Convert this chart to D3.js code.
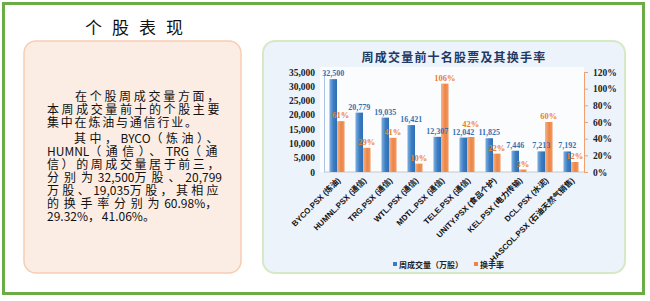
<!DOCTYPE html>
<html>
<head>
<meta charset="utf-8">
<script src="https://cdn.jsdelivr.net/npm/d3@7"></script>
<style>
  body { margin: 0; background: #fff; }
  svg { display: block; }
</style>
</head>
<body>
<div id="chart"></div>
<script>
// chart data
const categories = ["BYCO.PSX (炼油)", "HUMNL.PSX (通信)", "TRG.PSX (通信)", "WTL.PSX (通信)", "MDTL.PSX (通信)",
  "TELE.PSX (通信)", "UNITY.PSX (食品个护)", "KEL.PSX (电力传输)", "DCL.PSX (水泥)", "HASCOL.PSX (石油天然气销售)"];
const volumes = [32500, 20779, 19035, 16421, 12307, 12042, 11825, 7446, 7213, 7192];
const turnover = [61, 29, 41, 10, 106, 42, 22, 3, 60, 12];
const leftTicks = [0, 5000, 10000, 15000, 20000, 25000, 30000, 35000];
const rightTicks = [0, 20, 40, 60, 80, 100, 120];
const seriesNames = ["周成交量（万股）", "换手率"];

const textLines = [
  "在个股周成交量方面，",
  "本周成交量前十的个股主要",
  "集中在炼油与通信行业。",
  "其中，BYCO（炼油）、",
  "HUMNL（通信）、TRG（通",
  "信）的周成交量居于前三，",
  "分别为32,500万股、20,799",
  "万股、19,035万股，其相应",
  "的换手率分别为60.98%，",
  "29.32%，41.06%。"
];

const W = 650, H = 301;
const svg = d3.select("#chart").append("svg").attr("width", W).attr("height", H);
const defs = svg.append("defs");

// outer green frame
svg.append("rect")
  .attr("x", 3.5).attr("y", 3.5).attr("width", 640).attr("height", 290)
  .attr("fill", "#fff").attr("stroke", "#6aad47").attr("stroke-width", 3);

// ---- left text panel ----
svg.append("text")
  .attr("x", 139).attr("y", 34)
  .attr("text-anchor", "middle")
  .style("font-family", "'Noto Sans CJK SC'")
  .style("font-size", "17px")
  .style("letter-spacing", "10px")
  .style("fill", "#111")
  .text("个股表现");

svg.append("rect")
  .attr("x", 24).attr("y", 41).attr("width", 217).attr("height", 232)
  .attr("rx", 12).attr("ry", 12)
  .attr("fill", "#fcede4").attr("stroke", "#f7cdb2").attr("stroke-width", 1.5);

const lineY = [101, 114, 127, 143, 156, 169, 182, 195, 208, 221];
const lineX = [75, 47, 47, 74, 47, 47, 47, 47, 47, 47];
const justify = [true, true, false, true, true, true, true, true, true, false];
const txt = svg.append("g")
  .style("font-family", "'Noto Sans CJK SC'")
  .style("font-size", "12px")
  .style("fill", "#111");
textLines.forEach((s, i) => {
  const t = txt.append("text").attr("x", lineX[i]).attr("y", lineY[i]);
  // split into latin / cjk runs so only CJK gets the wide spacing
  const runs = s.match(/[\x00-\x7F]+|[^\x00-\x7F]+/g);
  const cjk = [];
  runs.forEach(r => {
    const ts = t.append("tspan").text(r);
    if (!/^[\x00-\x7F]+$/.test(r)) cjk.push(ts);
  });
  const nCjk = cjk.reduce((a, ts) => a + ts.text().length, 0);
  let sp = 1.8;
  if (justify[i]) {
    const len = t.node().getComputedTextLength();
    sp = Math.max(0, (222 - lineX[i] - len) / nCjk);
  }
  cjk.forEach(ts => ts.style("letter-spacing", sp + "px"));
});

// ---- right chart panel ----
svg.append("rect")
  .attr("x", 263).attr("y", 41).attr("width", 362).attr("height", 232)
  .attr("rx", 12).attr("ry", 12)
  .attr("fill", "#edf3fa").attr("stroke", "#d6e9c6").attr("stroke-width", 2);

svg.append("text")
  .attr("x", 454).attr("y", 62)
  .attr("text-anchor", "middle")
  .style("font-family", "'Noto Sans CJK SC'")
  .style("font-size", "12px")
  .style("font-weight", "bold")
  .style("letter-spacing", "1.2px")
  .style("fill", "#1f3864")
  .text("周成交量前十名股票及其换手率");

const plot = { left: 324, right: 584, top: 72, bottom: 172 };

svg.append("rect")
  .attr("x", 320).attr("y", 67)
  .attr("width", plot.right - 320).attr("height", plot.bottom - 67)
  .attr("fill", "#fbfcfe");

const x = d3.scaleBand().domain(categories)
  .range([plot.left, plot.right])
  .paddingInner(0.42).paddingOuter(0.21);
const yL = d3.scaleLinear().domain([0, 35000]).range([plot.bottom, plot.top]);
const yR = d3.scaleLinear().domain([0, 120]).range([plot.bottom, plot.top]);

// bar gradients
function grad(id, stops) {
  const g = defs.append("linearGradient").attr("id", id)
    .attr("x1", "0%").attr("x2", "100%").attr("y1", "0%").attr("y2", "0%");
  stops.forEach(s => g.append("stop").attr("offset", s[0]).attr("stop-color", s[1]));
}
grad("gBlue", [["0%", "#7fb0e0"], ["55%", "#3a7cc2"], ["100%", "#2f6fb3"]]);
grad("gOrange", [["0%", "#f6b58c"], ["55%", "#ee8444"], ["100%", "#f19a63"]]);

const bw = x.bandwidth() / 2;

// left axis
const axL = svg.append("g").attr("transform", `translate(${plot.left},0)`)
  .call(d3.axisLeft(yL).tickValues(leftTicks).tickSize(0).tickPadding(9).tickFormat(d3.format(",")));
axL.select(".domain").attr("stroke", "#a9c4e4");
axL.selectAll("text")
  .style("font-family", "'Liberation Serif'")
  .style("font-weight", "bold")
  .style("font-size", "9.5px")
  .style("fill", "#222");

// right axis
const axR = svg.append("g").attr("transform", `translate(${plot.right},0)`)
  .call(d3.axisRight(yR).tickValues(rightTicks).tickSize(4).tickPadding(5).tickFormat(d => d + "%"));
axR.select(".domain").attr("stroke", "#f0a070");
axR.selectAll("line").attr("stroke", "#f0a070");
axR.selectAll("text")
  .style("font-family", "'Liberation Serif'")
  .style("font-weight", "bold")
  .style("font-size", "9.5px")
  .style("fill", "#222");

// baseline
svg.append("line")
  .attr("x1", plot.left).attr("x2", plot.right)
  .attr("y1", plot.bottom).attr("y2", plot.bottom)
  .attr("stroke", "#c8c8c8");

// bars
svg.append("g").selectAll("rect").data(categories).join("rect")
  .attr("x", d => x(d))
  .attr("y", (d, i) => yL(volumes[i]))
  .attr("width", bw)
  .attr("height", (d, i) => plot.bottom - yL(volumes[i]))
  .attr("fill", "url(#gBlue)");

svg.append("g").selectAll("rect").data(categories).join("rect")
  .attr("x", d => x(d) + bw)
  .attr("y", (d, i) => yR(turnover[i]))
  .attr("width", bw)
  .attr("height", (d, i) => plot.bottom - yR(turnover[i]))
  .attr("fill", "url(#gOrange)");

// value labels
svg.append("g").selectAll("text").data(categories).join("text")
  .attr("x", d => x(d) + bw / 2)
  .attr("y", (d, i) => yL(volumes[i]) - 3)
  .attr("text-anchor", "middle")
  .style("font-family", "'Liberation Serif'")
  .style("font-weight", "bold")
  .style("font-size", "8px")
  .style("fill", "#2e75b6")
  .text((d, i) => d3.format(",")(volumes[i]));

// TELE label sits a bit higher to clear the volume label (as in the original)
svg.append("g").selectAll("text").data(categories).join("text")
  .attr("x", d => x(d) + bw * 1.5)
  .attr("y", (d, i) => yR(turnover[i]) - (i === 5 ? 10 : 3))
  .attr("text-anchor", "middle")
  .style("font-family", "'Liberation Serif'")
  .style("font-weight", "bold")
  .style("font-size", "8.5px")
  .style("fill", "#ed7d31")
  .text((d, i) => turnover[i] + "%");

// category labels
svg.append("g").selectAll("text").data(categories).join("text")
  .attr("transform", d => `translate(${x(d) + x.bandwidth() / 2 + 2},${plot.bottom + 7}) rotate(-45)`)
  .attr("text-anchor", "end")
  .attr("dy", "0.35em")
  .style("font-family", "'Liberation Sans', 'Noto Sans CJK SC'")
  .style("font-weight", "bold")
  .style("font-size", "8px")
  .style("fill", "#111")
  .text(d => d);

// legend
const legendColors = ["#3a7cc2", "#ee8444"];
const legendX = [393, 474];
const lg = svg.append("g");
seriesNames.forEach((n, i) => {
  lg.append("rect").attr("x", legendX[i]).attr("y", 262).attr("width", 4).attr("height", 4)
    .attr("fill", legendColors[i]);
  lg.append("text").attr("x", legendX[i] + 6).attr("y", 267.5)
    .style("font-family", "'Noto Sans CJK SC'")
    .style("font-weight", "bold")
    .style("font-size", "8px")
    .style("fill", "#222")
    .text(n);
});
</script>
</body>
</html>
